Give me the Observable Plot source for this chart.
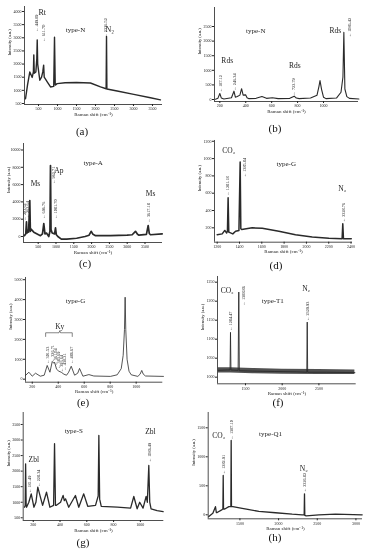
<!DOCTYPE html>
<html><head><meta charset="utf-8">
<script src="https://cdn.jsdelivr.net/npm/d3@7"></script>
<script src="https://cdn.jsdelivr.net/npm/@observablehq/plot@0.6"></script>
<style>
body{margin:0;background:#fff;width:371px;height:550px;position:relative;overflow:hidden;font-family:"Liberation Serif",serif;filter:grayscale(1);-webkit-font-smoothing:antialiased}
.panel{position:absolute}
.panel svg{overflow:visible}
.cap{position:absolute;font:11px "Liberation Serif",serif;transform:translate(-50%,-50%);white-space:nowrap;color:#111}
</style></head><body>
<script>
// ---------- (a) type-N ----------
const specA = [[158,680],[210,1200],[271,1700],[334,1490],[365,1700],[376,2350],[388,1650],[430,1700],[455,2200],[466,2920],[478,2000],[534,1385],[580,1500],[612,1700],[635,1960],[650,1500],[729,1320],[816,1130],[900,1150],[921,3020],[940,1200],[990,1257],[1200,1290],[1500,1300],[1868,1280],[2132,1130],[2280,1060],[2290,3050],[2300,1050],[2570,975],[3008,846],[3447,720],[3710,640]];
const peaksA = [{x:439,y:3230,t:"← 449.89"},{x:624,y:2850,t:"← 611.70"},{x:2263,y:3010,t:"← 2326.52"}];
const notesA = [{x:597,y:3970,t:"Rt",s:8},{x:1474,y:3300,t:"type-N",s:7},{x:2377,y:3330,t:"N₂",s:8}];
const xTicksA = [500,1000,1500,2000,2500,3000,3500];
const yTicksA = [500,1000,1500,2000,2500,3000,3500,4000];

// ---------- (b) type-N ----------
const specB = [[167,10],[185,40],[200,205],[212,50],[231,20],[290,60],[309,285],[320,80],[335,100],[355,150],[368,370],[380,150],[399,160],[410,60],[425,30],[480,40],[525,100],[560,40],[606,60],[650,30],[740,40],[774,115],[790,50],[812,30],[900,50],[950,150],[965,450],[973,650],[985,350],[1000,80],[1019,30],[1100,50],[1135,250],[1150,770],[1157,2300],[1165,360],[1180,100],[1200,40],[1273,20]];
const peaksB = [{x:205,y:250,t:"← 187.12"},{x:316,y:308,t:"← 246.34"},{x:770,y:140,t:"← 722.79"},{x:1200,y:2134,t:"← 1086.42"}];
const notesB = [{x:477,y:2340,t:"type-N",s:7},{x:257,y:1336,t:"Rds",s:7.5},{x:779,y:1154,t:"Rds",s:7.5},{x:1091,y:2363,t:"Rds",s:7.5}];
const xTicksB = [200,400,600,800,1000];
const yTicksB = [0,500,1000,1500,2000,2500];

// ---------- (c) type-A ----------
const specC = [[112,100],[150,300],[171,1700],[185,400],[200,700],[230,500],[264,4160],[280,600],[292,880],[376,500],[470,300],[563,100],[620,300],[657,1500],[690,300],[732,400],[797,0],[830,600],[845,8200],[860,800],[892,400],[960,300],[986,1000],[1010,200],[1052,0],[1150,-300],[1300,-300],[1580,-200],[1815,0],[1930,150],[1987,600],[2040,250],[2110,100],[2530,100],[3000,150],[3140,200],[3233,600],[3290,250],[3330,150],[3540,250],[3590,1270],[3620,350],[3655,200],[3983,300]];
const peaksC = [{x:115,y:1850,t:"← 203.62"},{x:191,y:2100,t:"← 263.64"},{x:640,y:2046,t:"← 696.76"},{x:921,y:6090,t:"← 962.71"},{x:1000,y:2046,t:"← 1081.70"},{x:3590,y:1620,t:"← 3617.18"}];
const notesC = [{x:424,y:6092,t:"Ms",s:7.5},{x:1079,y:7630,t:"Ap",s:7.5},{x:2045,y:8474,t:"type-A",s:7},{x:3655,y:4936,t:"Ms",s:7.5}];
const xTicksC = [500,1000,1500,2000,2500,3000,3500];
const yTicksC = [0,2000,4000,6000,8000,10000];

// ---------- (d) type-G ----------
const specD = [[1200,120],[1245,130],[1268,170],[1285,140],[1292,160],[1298,547],[1304,150],[1340,130],[1365,160],[1395,170],[1406,960],[1412,190],[1420,180],[1514,200],[1604,195],[1753,160],[1902,120],[2052,95],[2201,80],[2320,75],[2326,246],[2332,75],[2402,75]];
const peaksD = [{x:1295,y:573,t:"← 1281.18"},{x:1445,y:785,t:"← 1385.84"},{x:2335,y:265,t:"← 2328.76"}];
const notesD = [{x:1304,y:1094,t:"CO₂",s:7.5},{x:1819,y:940,t:"type-G",s:7},{x:2321,y:651,t:"N₂",s:7.5}];
const xTicksD = [1200,1400,1600,1800,2000,2200,2400];
const yTicksD = [200,400,600,800,1000,1200];

// ---------- (e) type-G ----------
const specE = [[148,190],[174,350],[200,150],[225,300],[262,150],[292,200],[315,690],[336,350],[354,890],[367,800],[372,850],[387,500],[405,400],[423,350],[444,250],[464,200],[480,350],[500,650],[526,200],[550,300],[564,540],[590,150],[636,230],[674,160],[802,140],[854,220],[885,530],[900,1200],[910,2500],[915,4120],[920,2500],[930,1000],[945,400],[962,220],[1013,140],[1030,250],[1043,440],[1055,250],[1072,160],[1210,140]];
const peaksE = [{x:315,y:774,t:"← 301.53"},{x:359,y:854,t:"← 326.71"},{x:379,y:688,t:"← 361.04"},{x:405,y:523,t:"← 383.69"},{x:425,y:352,t:"← 393.64"},{x:451,y:437,t:"← 438.21"},{x:500,y:774,t:"← 486.67"}];
const notesE = [{x:533,y:3955,t:"type-G",s:7},{x:412,y:2640,t:"Ky",s:7.5}];
const kyBracket = [[303,2146],[303,2332],[406,2332],[412,2440],[418,2332],[508,2332],[508,2146]];
const xTicksE = [200,400,600,800,1000];
const yTicksE = [0,1000,2000,3000,4000,5000];

// ---------- (f) type-T1 ----------
const specF = [[1130,1018],[1250,1019],[1290,1019],[1296,1118],[1302,1019],[1400,1018],[1409,1224],[1416,1017],[1600,1016],[1900,1015],[2200,1014],[2335,1013],[2341,1145],[2347,1013],[2600,1013],[2990,1012]];
const bandF = [[1130,1011,1025],[1300,1011,1025],[1600,1009,1023],[2000,1008,1021],[2500,1007,1020],[2990,1007,1019]];
const peaksF = [{x:1300,y:1122,t:"← 1284.47"},{x:1469,y:1189,t:"← 1388.86"},{x:2341,y:1148,t:"← 2329.93"}];
const notesF = [{x:1251,y:1228,t:"CO₂",s:7.5},{x:1872,y:1202,t:"type-T1",s:7},{x:2327,y:1234,t:"N₂",s:7.5}];
const xTicksF = [1500,2000,2500];
const yTicksF = [1000,1050,1100,1150,1200,1250];

// ---------- (g) type-S ----------
const specG = [[135,840],[140,900],[143,2236],[147,900],[150,840],[167,1000],[185,1270],[205,840],[220,1000],[234,1484],[250,1220],[270,900],[299,1323],[324,840],[352,900],[359,2880],[366,900],[373,900],[404,1000],[423,1220],[432,1050],[441,1110],[465,840],[515,1217],[540,840],[577,1270],[607,870],[665,900],[685,1200],[690,3146],[696,1100],[708,870],[828,840],[927,810],[951,1185],[976,790],[995,1000],[1020,810],[1043,1185],[1052,1000],[1063,2181],[1070,1000],[1080,790],[1125,730],[1170,700]];
const peaksG = [{x:170,y:1300,t:"← 181.49"},{x:237,y:1500,t:"← 228.34"},{x:1072,y:2288,t:"← 1086.49"}];
const notesG = [{x:503,y:3284,t:"type-S",s:7},{x:204,y:2365,t:"Zbl",s:7.5},{x:1075,y:3284,t:"Zbl",s:7.5}];
const xTicksG = [200,400,600,800,1000];
const yTicksG = [500,1000,1500,2000,2500,3000,3500];

// ---------- (h) type-Q1 ----------
const specH = [[1098,-30],[1150,25],[1184,140],[1195,40],[1206,40],[1270,90],[1280,100],[1284,678],[1288,100],[1305,100],[1357,140],[1383,140],[1387,1281],[1391,140],[1409,140],[1529,110],[1745,60],[1960,35],[2176,10],[2305,0],[2331,0],[2335,362],[2339,-10],[2357,-20],[2521,0],[2736,10],[3081,0]];
const peaksH = [{x:1284,y:700,t:"← 1282.91"},{x:1387,y:1300,t:"← 1387.10"},{x:2335,y:390,t:"← 2326.82"}];
const notesH = [{x:1227,y:1367,t:"CO₂",s:7.5},{x:1896,y:1397,t:"type-Q1",s:7},{x:2326,y:793,t:"N₂",s:7.5}];
const xTicksH = [1500,2000,2500,3000];
const yTicksH = [0,500,1000,1500];

// ---------- layout (page pixels) ----------
const panels = [
  {cap:"(a)", left:0,   top:0,   width:185, axL:24,    axR:162,   axT:6,   axB:104,   xD:[131,3764],  yD:[462,4190],  xT:xTicksA, yT:yTicksA, spec:specA, peaks:peaksA, notes:notesA, sw:1.4, cx:82,  cy:131},
  {cap:"(b)", left:185, top:0,   width:186, axL:214,   axR:358,   axT:7,   axB:101,   xD:[159,1270],  yD:[-68,3151],  xT:xTicksB, yT:yTicksB, spec:specB, peaks:peaksB, notes:notesB, sw:1.1, cx:275, cy:128},
  {cap:"(c)", left:0,   top:137, width:185, axL:23,    axR:162,   axT:143, axB:242,   xD:[87,3992],   yD:[-694,10751],xT:xTicksC, yT:yTicksC, spec:specC, peaks:peaksC, notes:notesC, sw:1.7, cx:85,  cy:263},
  {cap:"(d)", left:185, top:137, width:186, axL:214,   axR:352,   axT:140, axB:241.7, xD:[1176,2413], yD:[34,1209],   xT:xTicksD, yT:yTicksD, spec:specD, peaks:peaksD, notes:notesD, sw:1.5, cx:276, cy:265},
  {cap:"(e)", left:0,   top:272, width:185, axL:25,    axR:162.3, axT:277, axB:381.7, xD:[148,1205],  yD:[-151,5110], xT:xTicksE, yT:yTicksE, spec:specE, peaks:peaksE, notes:notesE, sw:0.8, cx:83,  cy:402},
  {cap:"(f)", left:185, top:272, width:186, axL:217,   axR:355.7, axT:276, axB:383.3, xD:[1119,3008], yD:[982.6,1265],xT:xTicksF, yT:yTicksF, spec:specF, peaks:peaksF, notes:notesF, sw:0.9, cx:278, cy:402, band:bandF},
  {cap:"(g)", left:0,   top:408, width:185, axL:22.7,  axR:163.3, axT:412, axB:520,   xD:[125,1175],  yD:[413,3885],  xT:xTicksG, yT:yTicksG, spec:specG, peaks:peaksG, notes:notesG, sw:1.3, cx:83,  cy:542},
  {cap:"(h)", left:185, top:408, width:186, axL:207.7, axR:362,   axT:412, axB:518.3, xD:[1090,3085], yD:[-69,1764],  xT:xTicksH, yT:yTicksH, spec:specH, peaks:peaksH, notes:notesH, sw:1.3, cx:275, cy:537}
];

const FONT = "'Liberation Serif', 'Times New Roman', serif";
const INK = "#222222";
for (const p of panels) {
  const marks = [
    Plot.ruleX([p.xD[0]], {stroke:INK, strokeWidth:0.8}),
    Plot.ruleY([p.yD[0]], {stroke:INK, strokeWidth:0.8})
  ];
  if (p.band) marks.push(Plot.areaY(p.band, {x:d=>d[0], y1:d=>d[1], y2:d=>d[2], fill:"#333333", fillOpacity:0.85}));
  marks.push(Plot.line(p.spec, {x:d=>d[0], y:d=>d[1], stroke:"#2a2a2a", strokeWidth:p.sw, strokeLinejoin:"round"}));
  if (p.cap === "(e)") marks.push(Plot.line(kyBracket, {x:d=>d[0], y:d=>d[1], stroke:"#333333", strokeWidth:0.6}));
  marks.push(Plot.text(p.peaks, {x:"x", y:"y", text:"t", rotate:-90, textAnchor:"start", fontSize:4.3, fill:INK}));
  for (const s of [...new Set(p.notes.map(d => d.s))]) {
    marks.push(Plot.text(p.notes.filter(d => d.s === s), {x:"x", y:"y", text:"t", fontSize:s, fill:INK}));
  }
  marks.push(Plot.text(["Raman shift (cm⁻¹)"], {frameAnchor:"bottom", dy:11, fontSize:5, fill:INK}));
  marks.push(Plot.text(["Intensity (a.u.)"], {frameAnchor:"left", rotate:-90, dx:-15, fontSize:4.5, fill:INK}));
  const chart = Plot.plot({
    width: p.width,
    height: p.axB + 16 - p.top,
    marginLeft: p.axL - p.left,
    marginRight: p.left + p.width - p.axR,
    marginTop: p.axT - p.top,
    marginBottom: 16,
    style: {fontFamily: FONT, fontSize: "4px", background: "transparent", color: INK},
    x: {domain: p.xD, ticks: p.xT, tickFormat: d => String(d), tickSize: 2, tickPadding: 1, label: null},
    y: {domain: p.yD, ticks: p.yT, tickFormat: d => String(d), tickSize: 2, tickPadding: 1, label: null},
    marks
  });
  const div = document.createElement("div");
  div.className = "panel";
  div.style.left = p.left + "px";
  div.style.top = p.top + "px";
  div.appendChild(chart);
  document.body.appendChild(div);
  const cap = document.createElement("div");
  cap.className = "cap";
  cap.style.left = p.cx + "px";
  cap.style.top = p.cy + "px";
  cap.textContent = p.cap;
  document.body.appendChild(cap);
}
</script>
</body></html>
